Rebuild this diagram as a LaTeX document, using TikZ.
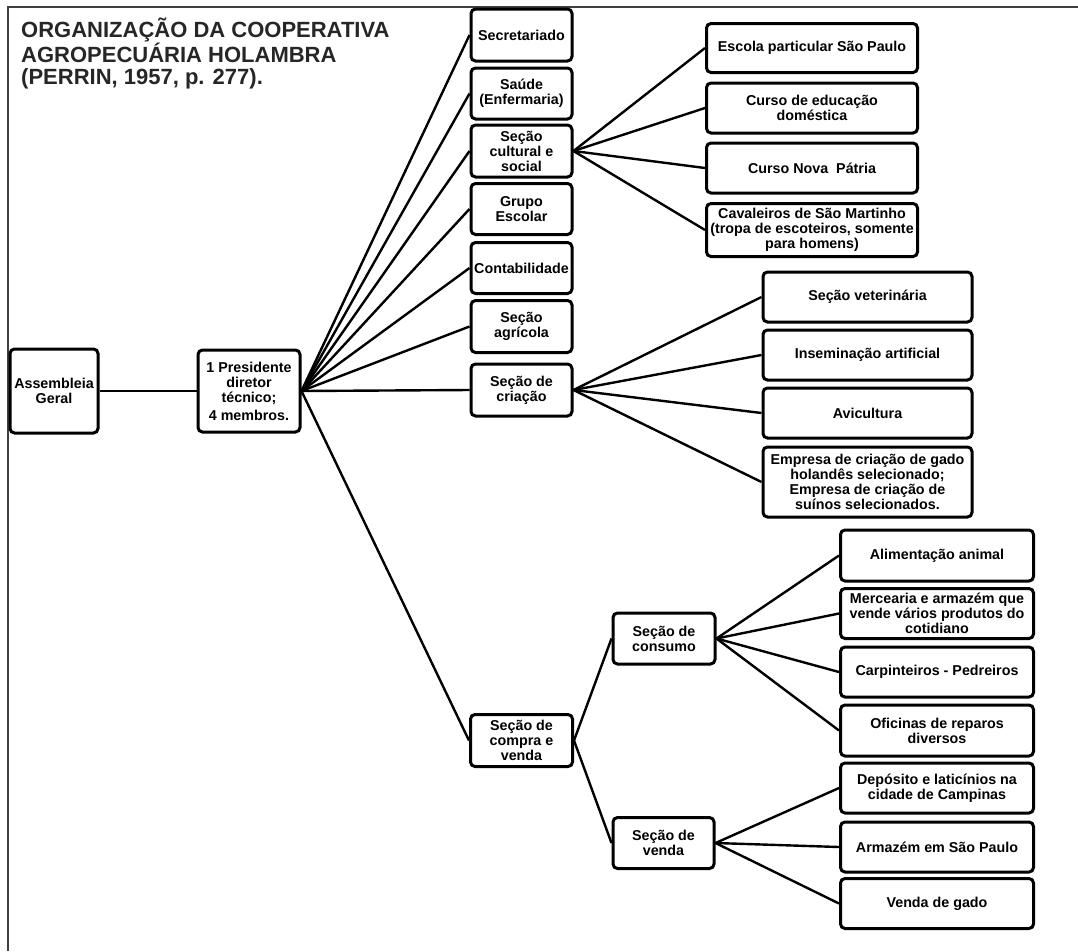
\documentclass[tikz,border=0pt]{standalone}
\usepackage{fontspec}
\setmainfont{Liberation Sans}
\begin{document}
\begin{tikzpicture}[x=1pt,y=-1pt,
  box/.style={draw=black, line width=3pt, rounded corners=4.5pt, fill=white,
    align=center, inner sep=1pt,
    font=\fontsize{14.3}{15}\selectfont\bfseries},
  link/.style={draw=black, line width=2.4pt},
  frame/.style={draw=black!75, line width=1.6pt}]
\useasboundingbox (0,0) rectangle (1078,951);
% frame
\coordinate (ftl) at (8,7);
\coordinate (ftr) at (1078,7);
\coordinate (fbl) at (8,951);
\draw[frame] (ftr) -- (ftl) -- (fbl);
% title
\node[anchor=north west, inner sep=0pt, align=left,
  font=\fontsize{22}{21.5}\selectfont\bfseries, text=black!85] (title) at (21,18)
  {ORGANIZAÇÃO DA COOPERATIVA\\AGROPECUÁRIA HOLAMBRA\\(PERRIN, 1957, p. 277).};
% column 1
\node[box, minimum width=88, minimum height=84] (asm) at (54,391) {Assembleia\\Geral};
\node[box, minimum width=102, minimum height=82] (pres) at (249,391) {1 Presidente\\diretor\\técnico;\\[3pt]4 membros.};
% column 2
\node[box, minimum width=101, minimum height=52] (sec) at (521.5,35) {Secretariado};
\node[box, minimum width=101, minimum height=51] (sau) at (521.5,93.5) {Saúde\\(Enfermaria)};
\node[box, minimum width=101, minimum height=52] (cul) at (521.5,151) {Seção\\cultural e\\social};
\node[box, minimum width=101, minimum height=51] (gru) at (521.5,209) {Grupo\\Escolar};
\node[box, minimum width=101, minimum height=51] (con) at (521.5,268) {Contabilidade};
\node[box, minimum width=101, minimum height=52] (agr) at (521.5,326.5) {Seção\\agrícola};
\node[box, minimum width=101, minimum height=52] (cri) at (521.5,390) {Seção de\\criação};
\node[box, minimum width=102, minimum height=52] (cv) at (521.5,740.5) {Seção de\\compra e\\venda};
% cultural children
\node[box, minimum width=211, minimum height=49] (esc) at (812,48) {Escola particular São Paulo};
\node[box, minimum width=211, minimum height=50] (ced) at (812,108) {Curso de educação\\doméstica};
\node[box, minimum width=211, minimum height=50] (cnp) at (812,168) {Curso Nova~ Pátria};
\node[box, minimum width=211, minimum height=53] (cav) at (812,230) {Cavaleiros de São Martinho\\(tropa de escoteiros, somente\\para homens)};
% criacao children
\node[box, minimum width=209, minimum height=50] (vet) at (867.5,297) {Seção veterinária};
\node[box, minimum width=209, minimum height=50] (ins) at (867.5,355) {Inseminação artificial};
\node[box, minimum width=209, minimum height=50] (avi) at (867.5,413) {Avicultura};
\node[box, minimum width=209, minimum height=70] (emp) at (867.5,482) {Empresa de criação de gado\\holandês selecionado;\\Empresa de criação de\\suínos selecionados.};
% compra e venda children
\node[box, minimum width=102, minimum height=51] (csm) at (664,638.5) {Seção de\\consumo};
\node[box, minimum width=101, minimum height=51] (vnd) at (663.5,843) {Seção de\\venda};
% consumo children
\node[box, minimum width=193, minimum height=51] (ali) at (937,555.5) {Alimentação animal};
\node[box, minimum width=193, minimum height=50] (mer) at (937,613.5) {Mercearia e armazém que\\vende vários produtos do\\cotidiano};
\node[box, minimum width=193, minimum height=50] (car) at (937,672) {Carpinteiros - Pedreiros};
\node[box, minimum width=193, minimum height=51] (ofi) at (937,730.5) {Oficinas de reparos\\diversos};
% venda children
\node[box, minimum width=193, minimum height=50] (dep) at (937,788) {Depósito e laticínios na\\cidade de Campinas};
\node[box, minimum width=193, minimum height=50] (arm) at (937,847) {Armazém em São Paulo};
\node[box, minimum width=193, minimum height=50] (vdg) at (937,903.5) {Venda de gado};
% connectors
\draw[link] (asm.east) -- (pres.west);
\foreach \t in {sec,sau,cul,gru,con,agr,cri,cv}
  \draw[link] (pres.east) -- (\t.west);
\foreach \t in {esc,ced,cnp,cav}
  \draw[link] (cul.east) -- (\t.west);
\foreach \t in {vet,ins,avi,emp}
  \draw[link] (cri.east) -- (\t.west);
\draw[link] (cv.east) -- (csm.west);
\draw[link] (cv.east) -- (vnd.west);
\foreach \t in {ali,mer,car,ofi}
  \draw[link] (csm.east) -- (\t.west);
\foreach \t in {dep,arm,vdg}
  \draw[link] (vnd.east) -- (\t.west);
\end{tikzpicture}
\end{document}
